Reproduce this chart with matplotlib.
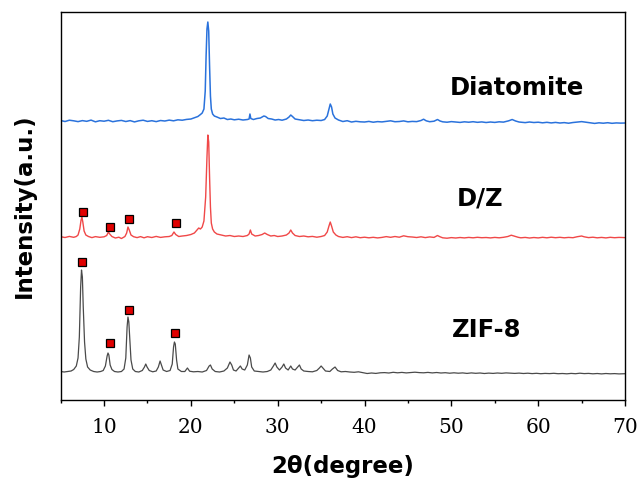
import numpy as np
import matplotlib
matplotlib.use("Agg")
import matplotlib.pyplot as plt
from matplotlib.ticker import MultipleLocator

# Patrones DRX: (2theta, intensidad sobre la linea base, u.a.)
diatomite_pts = [
    (5.0, 0.5), (5.5, -0.5), (6.0, 0.8), (6.5, 0.2), (7.0, -0.6), (7.5, 0.4), (8.0, -0.3), (8.5, 0.9),
    (9.0, -0.8), (9.5, 0.3), (10.0, -0.2), (10.5, 0.7), (11.0, -0.7), (11.5, 0.1), (12.0, 0.6), (12.5, -0.5),
    (13.0, 0.4), (13.5, -0.9), (14.0, 0.2), (14.5, 0.8), (15.0, -0.4), (15.5, 0.3), (16.0, -0.6), (16.5, 0.5),
    (17.0, 0.0), (17.5, 0.9), (18.0, 0.2), (18.5, 1.2), (19.0, 0.8), (19.5, 1.6), (20.0, 2.0), (20.4, 3.2),
    (20.8, 4.5), (21.1, 6.5), (21.3, 8.0), (21.5, 12), (21.65, 30), (21.75, 65), (21.85, 92), (21.95, 99),
    (22.05, 90), (22.15, 55), (22.25, 25), (22.35, 12), (22.5, 7), (22.7, 5), (23.0, 4), (23.4, 2.5),
    (23.8, 3), (24.2, 1.5), (24.6, 2), (25.0, 1.2), (25.5, 1.8), (26.0, 1.0), (26.5, 1.5), (26.7, 2),
    (26.8, 7), (26.9, 2.5), (27.2, 1.5), (27.6, 2.5), (28.0, 3), (28.4, 5), (28.6, 4.5), (28.9, 2.5),
    (29.3, 2), (29.7, 1), (30.1, 1.5), (30.5, 0.8), (31.0, 2), (31.3, 4), (31.5, 6), (31.7, 4.5),
    (32.0, 2), (32.5, 1.2), (33.0, 0.5), (33.5, 1), (34.0, 0.3), (34.5, 0.8), (35.0, 0.5), (35.4, 1.5),
    (35.7, 5), (35.9, 12), (36.05, 17), (36.2, 14), (36.35, 7), (36.6, 3), (37.0, 1), (37.5, -0.5),
    (38.0, 0.3), (38.5, -1), (39.0, -0.3), (39.5, -0.8), (40.0, -1), (40.5, -0.4), (41.0, -1.2), (41.5, -0.6),
    (42.0, -0.9), (42.5, -0.3), (43.0, 0.2), (43.5, -0.7), (44.0, -0.5), (44.5, 0.1), (45.0, -0.8), (45.5, -0.4),
    (46.0, -0.6), (46.5, 0.5), (46.8, 1.8), (47.1, 0.2), (47.5, -0.7), (48.0, -0.2), (48.4, 1.5), (48.7, 0.0),
    (49.0, -0.8), (49.5, -1.2), (50.0, -0.6), (50.5, -1.0), (51.0, -1.4), (51.5, -0.8), (52.0, -1.2), (52.5, -0.7),
    (53.0, -1.3), (53.5, -0.9), (54.0, -1.5), (54.5, -1.0), (55.0, -1.4), (55.5, -0.8), (56.0, -1.1), (56.6, 0.2),
    (57.0, 1.5), (57.4, 0.0), (57.8, -1.0), (58.5, -1.6), (59.0, -1.0), (59.5, -1.5), (60.0, -1.2), (60.5, -1.8),
    (61.0, -1.3), (61.5, -1.9), (62.0, -1.4), (62.5, -2.0), (63.0, -1.6), (63.5, -2.2), (64.0, -1.5), (64.5, -1.0),
    (65.0, -0.6), (65.5, -1.2), (66.0, -1.8), (66.5, -2.4), (67.0, -1.8), (67.5, -2.2), (68.0, -1.7), (68.5, -2.3),
    (69.0, -1.9), (69.5, -2.1), (70.0, -2.0),
]

dz_pts = [
    (5.0, 0.3), (5.5, -0.5), (6.0, 0.6), (6.5, -0.3), (6.8, 0.5), (7.0, 2), (7.2, 8), (7.35, 17),
    (7.45, 20), (7.55, 15), (7.7, 6), (7.9, 2), (8.2, 0.5), (8.6, -0.6), (9.0, 0.4), (9.5, -0.3),
    (10.0, 0.2), (10.3, 1.5), (10.5, 5), (10.65, 3), (10.9, 0.5), (11.3, -1), (11.7, -0.2), (12.0, -1.5),
    (12.4, 0.5), (12.6, 4), (12.75, 10), (12.9, 7), (13.1, 2), (13.4, 0.3), (13.8, -0.6), (14.2, 0.4),
    (14.6, -0.8), (15.0, 0.3), (15.5, -0.5), (16.0, 0.6), (16.5, -0.4), (17.0, 0.2), (17.5, 0.5), (17.8, 1.5),
    (18.05, 5), (18.25, 2.5), (18.6, 0.5), (19.0, 1), (19.5, 1.5), (20.0, 2.5), (20.4, 4), (20.7, 7),
    (20.9, 9), (21.1, 8), (21.3, 10), (21.5, 16), (21.7, 40), (21.85, 80), (21.95, 102), (22.05, 95),
    (22.15, 60), (22.25, 30), (22.35, 14), (22.5, 8), (22.7, 5), (23.0, 3), (23.5, 2), (24.0, 1),
    (24.5, 1.5), (25.0, 0.5), (25.5, 1), (26.0, 0.5), (26.5, 1.5), (26.7, 3), (26.85, 7), (27.0, 3),
    (27.4, 1), (27.8, 1.5), (28.2, 2.5), (28.5, 4), (28.8, 2.5), (29.2, 1), (29.6, 1.5), (30.0, 0.5),
    (30.5, 1), (31.0, 2), (31.3, 4), (31.5, 7), (31.7, 4), (32.0, 1.5), (32.5, 0.5), (33.0, 1),
    (33.5, 0.2), (34.0, 0.6), (34.5, -0.2), (35.0, 0.5), (35.4, 1.5), (35.7, 5), (35.9, 11), (36.05, 15),
    (36.2, 11), (36.4, 5), (36.7, 2), (37.0, 0.5), (37.5, -0.4), (38.0, 0.3), (38.5, -0.6), (39.0, 0.2),
    (39.5, -0.7), (40.0, -0.2), (40.5, -0.8), (41.0, -0.3), (41.5, -0.9), (42.0, -0.4), (42.5, 0.4), (43.0, -0.3),
    (43.5, 0.5), (44.0, -0.2), (44.5, 1.2), (45.0, 0.3), (45.5, 0.0), (46.0, -0.5), (46.5, 0.2), (47.0, -0.6),
    (47.5, 0.1), (48.0, -0.4), (48.4, 1.5), (48.7, 0.2), (49.0, -0.8), (49.5, -1.2), (50.0, -0.6), (50.5, -1.0),
    (51.0, -0.5), (51.5, -0.9), (52.0, -0.4), (52.5, -0.8), (53.0, -0.3), (53.5, -0.7), (54.0, -0.5), (54.5, -0.9),
    (55.0, -0.4), (55.5, -0.8), (56.0, -0.3), (56.5, 0.5), (56.9, 1.8), (57.3, 0.8), (57.7, -0.3), (58.0, -0.8),
    (58.5, -0.4), (59.0, -1.0), (59.5, -0.5), (60.0, -0.9), (60.5, -0.3), (61.0, -0.8), (61.5, -0.2), (62.0, -0.7),
    (62.5, -0.3), (63.0, -0.8), (63.5, -0.4), (64.0, -0.7), (64.5, 0.3), (65.0, 1.0), (65.3, 0.2), (65.8, -0.6),
    (66.3, -0.2), (66.8, -0.8), (67.3, -0.4), (67.8, -0.9), (68.3, -0.3), (68.8, -0.7), (69.3, -0.4), (70.0, -0.6),
]

zif8_pts = [
    (5.0, 0.5), (5.4, 0.0), (5.8, 0.5), (6.2, 1.0), (6.5, 2.5), (6.8, 6), (7.0, 14), (7.15, 35),
    (7.3, 85), (7.4, 102), (7.5, 95), (7.6, 65), (7.75, 30), (7.9, 13), (8.1, 5), (8.4, 2),
    (8.8, 0.5), (9.2, 0), (9.6, 0.5), (9.9, 1.5), (10.15, 6), (10.35, 16), (10.45, 19), (10.55, 17),
    (10.7, 7), (10.9, 2.5), (11.2, 0.5), (11.6, 0), (12.0, 0.5), (12.3, 3), (12.5, 14), (12.65, 45),
    (12.75, 55), (12.85, 50), (12.95, 35), (13.1, 12), (13.3, 3), (13.6, 0.5), (14.0, 0), (14.4, 1.5),
    (14.65, 5), (14.8, 8), (14.95, 5), (15.2, 1.5), (15.6, 0.2), (16.0, 1), (16.25, 5), (16.45, 11),
    (16.6, 7), (16.8, 2), (17.2, 0.5), (17.6, 1.5), (17.85, 8), (18.0, 25), (18.1, 30), (18.2, 28),
    (18.35, 12), (18.5, 3), (18.9, 0.5), (19.3, 0.5), (19.6, 4), (19.85, 0.8), (20.3, 0.2), (20.8, 0.5),
    (21.3, 0), (21.8, 1.5), (22.1, 6), (22.25, 7), (22.45, 3), (22.8, 0.5), (23.3, 0), (23.8, 1),
    (24.2, 4), (24.5, 10), (24.7, 7), (24.9, 2), (25.2, 1), (25.5, 4), (25.7, 6), (25.9, 3),
    (26.2, 2), (26.5, 7), (26.7, 17), (26.85, 14), (27.0, 5), (27.3, 1), (27.8, 0.5), (28.3, 0),
    (28.8, 0.5), (29.2, 2), (29.5, 6), (29.7, 9), (29.9, 5), (30.2, 2), (30.5, 5), (30.7, 8),
    (30.9, 4), (31.2, 2), (31.5, 6), (31.7, 3), (32.0, 2), (32.3, 5), (32.5, 7), (32.7, 3),
    (33.0, 1), (33.5, 0.5), (34.0, 0.2), (34.5, 1.5), (34.8, 4), (35.0, 6), (35.2, 4), (35.5, 1),
    (36.0, 0.5), (36.3, 3), (36.6, 5), (36.9, 1.5), (37.3, 0.2), (37.8, 0.5), (38.3, 0), (38.8, -0.3),
    (39.3, 0.2), (39.8, -0.6), (40.3, -1.5), (40.8, -1.0), (41.3, -1.4), (41.8, -0.8), (42.3, -0.6), (42.8, -1.0),
    (43.3, -0.3), (43.8, -0.8), (44.3, -0.4), (44.8, -0.9), (45.3, -0.5), (45.8, -0.2), (46.3, -0.6), (46.8, -0.8),
    (47.3, -0.4), (47.8, -0.9), (48.3, -0.5), (48.8, -1.0), (49.3, -0.7), (49.8, -1.2), (50.3, -0.8), (50.8, -1.2),
    (51.3, -0.9), (51.8, -1.4), (52.3, -0.9), (52.8, -1.3), (53.3, -1.0), (53.8, -1.5), (54.3, -1.1), (54.8, -1.4),
    (55.3, -1.0), (55.8, -1.3), (56.3, -0.9), (56.8, -1.2), (57.3, -1.4), (57.8, -1.1), (58.3, -1.5), (58.8, -1.2),
    (59.3, -1.6), (59.8, -1.3), (60.3, -1.7), (60.8, -1.4), (61.3, -1.6), (61.8, -1.3), (62.3, -1.7), (62.8, -1.5),
    (63.3, -1.8), (63.8, -1.4), (64.3, -1.7), (64.8, -1.2), (65.3, -1.6), (65.8, -1.4), (66.3, -1.8), (66.8, -1.5),
    (67.3, -1.9), (67.8, -1.5), (68.3, -1.8), (68.8, -1.6), (69.3, -1.9), (70.0, -1.7),
]

# Desplazamiento vertical de cada patron
offset_zif8 = 27.5
offset_dz = 162.5
offset_diatomite = 278.5

# Marcadores de picos de ZIF-8 (cuadrados rojos)
dz_mark_x = [7.6, 10.7, 12.9, 18.3]
dz_mark_y = [25, 10, 18, 14]
zif8_mark_x = [7.5, 10.7, 12.9, 18.2]
zif8_mark_y = [110, 29, 62, 39]

fig = plt.figure(figsize=(6.4, 4.8), dpi=100)
ax = fig.add_axes([0.0948, 0.1677, 0.9766 - 0.0948, 0.976 - 0.1677])

curvas = [
    (zif8_pts, offset_zif8, "#4a4a4a", 0.9),
    (dz_pts, offset_dz, "#f04848", 1.0),
    (diatomite_pts, offset_diatomite, "#2a72dc", 1.1),
]
for pts, off, color, lw in curvas:
    arr = np.array(pts)
    ax.plot(arr[:, 0], arr[:, 1] + off, color=color, lw=lw)

ax.plot(dz_mark_x, np.array(dz_mark_y) + offset_dz, ls="none", marker="s", ms=5.6,
        mfc="#e00000", mec="black", mew=0.9)
ax.plot(zif8_mark_x, np.array(zif8_mark_y) + offset_zif8, ls="none", marker="s", ms=5.6,
        mfc="#e00000", mec="black", mew=0.9)

etiqueta = dict(fontsize=17.5, fontweight="bold", family="DejaVu Sans", ha="center", va="center")
ax.text(57.6, 312, "Diatomite", **etiqueta)
ax.text(53.3, 201, "D/Z", **etiqueta)
ax.text(54.1, 69.5, "ZIF-8", **etiqueta)

ax.set_xlim(5, 70)
ax.set_ylim(0, 388)
ax.xaxis.set_major_locator(MultipleLocator(10))
ax.xaxis.set_minor_locator(MultipleLocator(5))
ax.set_yticks([])
ax.tick_params(axis="x", which="major", direction="out", length=4, width=1, pad=9)
ax.tick_params(axis="x", which="minor", direction="out", length=2.5, width=1)
for lab in ax.get_xticklabels():
    lab.set_family("DejaVu Serif")
    lab.set_fontsize(14.5)
for s in ax.spines.values():
    s.set_linewidth(1.0)

ax.set_xlabel("2θ(degree)", fontsize=16.5, fontweight="bold", labelpad=13)
ax.set_ylabel("Intensity(a.u.)", fontsize=16.5, fontweight="bold", labelpad=18)

fig.savefig("out.png", dpi=100)
